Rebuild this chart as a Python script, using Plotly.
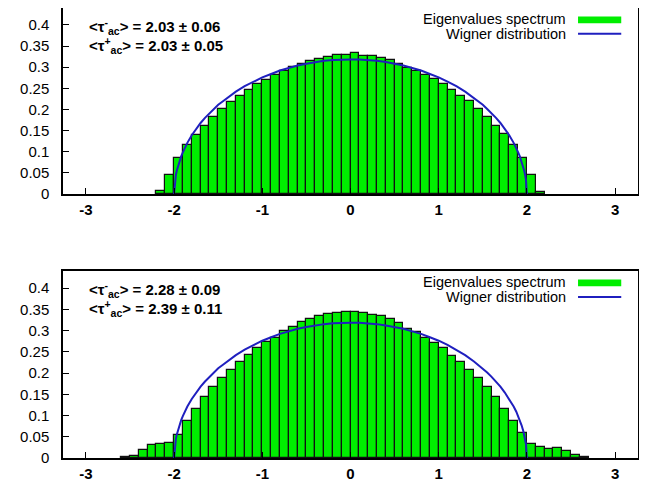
import plotly.graph_objects as go
from plotly.subplots import make_subplots

# ---------------- data ----------------
bin_width = 0.1

top_bin_centers = [-2.15, -2.05, -1.95, -1.85, -1.75, -1.65, -1.55, -1.45, -1.35, -1.25, -1.15,
                   -1.05, -0.95, -0.85, -0.75, -0.65, -0.55, -0.45, -0.35, -0.25, -0.15, -0.05,
                   0.05, 0.15, 0.25, 0.35, 0.45, 0.55, 0.65, 0.75, 0.85, 0.95, 1.05,
                   1.15, 1.25, 1.35, 1.45, 1.55, 1.65, 1.75, 1.85, 1.95, 2.05, 2.15]
top_density = [0.008, 0.045, 0.085, 0.116, 0.139, 0.162, 0.181, 0.201, 0.218, 0.232, 0.247,
               0.260, 0.270, 0.282, 0.291, 0.300, 0.308, 0.314, 0.320, 0.324, 0.328, 0.328,
               0.333, 0.327, 0.326, 0.322, 0.318, 0.308, 0.298, 0.291, 0.282, 0.272, 0.260,
               0.247, 0.233, 0.219, 0.201, 0.182, 0.162, 0.141, 0.116, 0.084, 0.044, 0.005]

bottom_bin_centers = [-2.55, -2.45, -2.35, -2.25, -2.15, -2.05, -1.95, -1.85, -1.75, -1.65,
                      -1.55, -1.45, -1.35, -1.25, -1.15, -1.05, -0.95, -0.85, -0.75, -0.65,
                      -0.55, -0.45, -0.35, -0.25, -0.15, -0.05, 0.05, 0.15, 0.25, 0.35,
                      0.45, 0.55, 0.65, 0.75, 0.85, 0.95, 1.05, 1.15, 1.25, 1.35,
                      1.45, 1.55, 1.65, 1.75, 1.85, 1.95, 2.05, 2.15, 2.25, 2.35,
                      2.45, 2.55, 2.65]
bottom_density = [0.002, 0.005, 0.019, 0.031, 0.033, 0.036, 0.055, 0.088, 0.115, 0.144,
                  0.168, 0.189, 0.208, 0.225, 0.242, 0.258, 0.273, 0.283, 0.298, 0.308,
                  0.321, 0.327, 0.333, 0.339, 0.342, 0.343, 0.343, 0.342, 0.336, 0.333,
                  0.327, 0.317, 0.304, 0.296, 0.283, 0.271, 0.258, 0.241, 0.225, 0.206,
                  0.188, 0.167, 0.143, 0.116, 0.088, 0.059, 0.032, 0.025, 0.021, 0.023,
                  0.017, 0.008, 0.002]

wigner_x = [-2.0, -1.99, -1.98, -1.97, -1.96, -1.94, -1.92, -1.9, -1.88, -1.85, -1.8, -1.75,
            -1.7, -1.65, -1.6, -1.55, -1.5, -1.45, -1.4, -1.3, -1.2, -1.1, -1.0, -0.9, -0.8,
            -0.7, -0.6, -0.5, -0.4, -0.3, -0.2, -0.1, 0.0,
            0.1, 0.2, 0.3, 0.4, 0.5, 0.6, 0.7, 0.8, 0.9, 1.0, 1.1, 1.2, 1.3, 1.4, 1.45,
            1.5, 1.55, 1.6, 1.65, 1.7, 1.75, 1.8, 1.85, 1.88, 1.9, 1.92, 1.94, 1.96, 1.97,
            1.98, 1.99, 2.0]
wigner_y = [0.0, 0.032, 0.045, 0.055, 0.063, 0.077, 0.089, 0.099, 0.109, 0.121, 0.139, 0.154,
            0.168, 0.180, 0.191, 0.201, 0.211, 0.219, 0.227, 0.242, 0.255, 0.266, 0.276, 0.284,
            0.292, 0.298, 0.304, 0.308, 0.312, 0.315, 0.317, 0.318, 0.318,
            0.318, 0.317, 0.315, 0.312, 0.308, 0.304, 0.298, 0.292, 0.284, 0.276, 0.266, 0.255,
            0.242, 0.227, 0.219, 0.211, 0.201, 0.191, 0.180, 0.168, 0.154, 0.139, 0.121, 0.109,
            0.099, 0.089, 0.077, 0.063, 0.055, 0.045, 0.032, 0.0]

x_tick_vals = [-3, -2, -1, 0, 1, 2, 3]
x_tick_text = ["-3", "-2", "-1", "0", "1", "2", "3"]
y_tick_vals = [0, 0.05, 0.1, 0.15, 0.2, 0.25, 0.3, 0.35, 0.4]
y_tick_text = ["0", "0.05", "0.1", "0.15", "0.2", "0.25", "0.3", "0.35", "0.4"]

top_tau_minus = "2.03 ± 0.06"
top_tau_plus = "2.03 ± 0.05"
bottom_tau_minus = "2.28 ± 0.09"
bottom_tau_plus = "2.39 ± 0.11"

legend_labels = ["Eigenvalues spectrum", "Wigner distribution"]

# ---------------- styling ----------------
BAR_GREEN = "#00ee00"
BAR_EDGE = "#111111"
LINE_BLUE = "#1f1fbf"
FONT = "Liberation Sans, Arial, Helvetica, sans-serif"
X_RANGE = [-3.26, 3.26]
Y_RANGE = [0, 0.44]

W, H = 647, 482
ML, MR, MT, MB = 55, 17, 0, 32
plot_h = H - MT - MB
top_dom = [1 - 186.0 / plot_h, 1.0]
bot_dom = [0.0, (plot_h - 263.0) / plot_h]

fig = make_subplots(rows=2, cols=1, shared_xaxes=False)

panels = [
    (1, top_bin_centers, top_density, top_tau_minus, top_tau_plus),
    (2, bottom_bin_centers, bottom_density, bottom_tau_minus, bottom_tau_plus),
]

annotations = []
shapes = []
for row, centers, dens, tm, tp in panels:
    fig.add_trace(go.Bar(x=centers, y=dens, width=bin_width,
                         marker=dict(color=BAR_GREEN, line=dict(color=BAR_EDGE, width=1.2)),
                         showlegend=False), row=row, col=1)
    fig.add_trace(go.Scatter(x=wigner_x, y=wigner_y, mode="lines",
                             line=dict(color=LINE_BLUE, width=2), showlegend=False),
                  row=row, col=1)
    xr = "x" if row == 1 else "x2"
    yr = "y" if row == 1 else "y2"
    # tau annotations
    for txt, sign, yv in [(tm, "-", 0.397), (tp, "+", 0.351)]:
        annotations.append(dict(
            x=-2.99, y=yv, xref=xr, yref=yr, xanchor="left", yanchor="middle",
            text="&lt;τ<sup>" + sign + "</sup><sub>ac</sub>&gt; = " + txt, showarrow=False,
            font=dict(family=FONT, size=15, color="black", weight="bold")))
    # custom legend (gnuplot style: text then sample)
    annotations.append(dict(x=2.47, y=0.415, xref=xr, yref=yr, xanchor="right",
                            yanchor="middle", text=legend_labels[0], showarrow=False,
                            font=dict(family=FONT, size=14.5, color="black")))
    annotations.append(dict(x=2.47, y=0.379, xref=xr, yref=yr, xanchor="right",
                            yanchor="middle", text=legend_labels[1], showarrow=False,
                            font=dict(family=FONT, size=14.5, color="black")))
    shapes.append(dict(type="rect", xref=xr, yref=yr, x0=2.58, x1=3.07, y0=0.404, y1=0.420,
                       fillcolor=BAR_GREEN, line=dict(width=0)))
    shapes.append(dict(type="line", xref=xr, yref=yr, x0=2.58, x1=3.07, y0=0.379, y1=0.379,
                       line=dict(color=LINE_BLUE, width=2)))

axis_common = dict(showgrid=False, zeroline=False, showline=True, linecolor="black",
                   linewidth=1.5, ticks="inside", ticklen=6, tickwidth=1.2, tickcolor="black")

for row, dom in [(1, top_dom), (2, bot_dom)]:
    fig.update_xaxes(range=X_RANGE, tickvals=x_tick_vals, ticktext=x_tick_text,
                     mirror=(row == 2), ticklabelstandoff=1, row=row, col=1,
                     tickfont=dict(family=FONT, size=15, color="black", weight="bold"),
                     **axis_common)
    fig.update_yaxes(range=Y_RANGE, tickvals=y_tick_vals, ticktext=y_tick_text,
                     mirror=True, domain=dom, ticklabelstandoff=9, row=row, col=1,
                     tickfont=dict(family=FONT, size=15, color="black"),
                     **axis_common)

fig.update_layout(width=W, height=H, margin=dict(l=ML, r=MR, t=MT, b=MB),
                  plot_bgcolor="white", paper_bgcolor="white", bargap=0,
                  annotations=annotations, shapes=shapes,
                  font=dict(family=FONT, color="black"))

fig.write_html("out.html")
